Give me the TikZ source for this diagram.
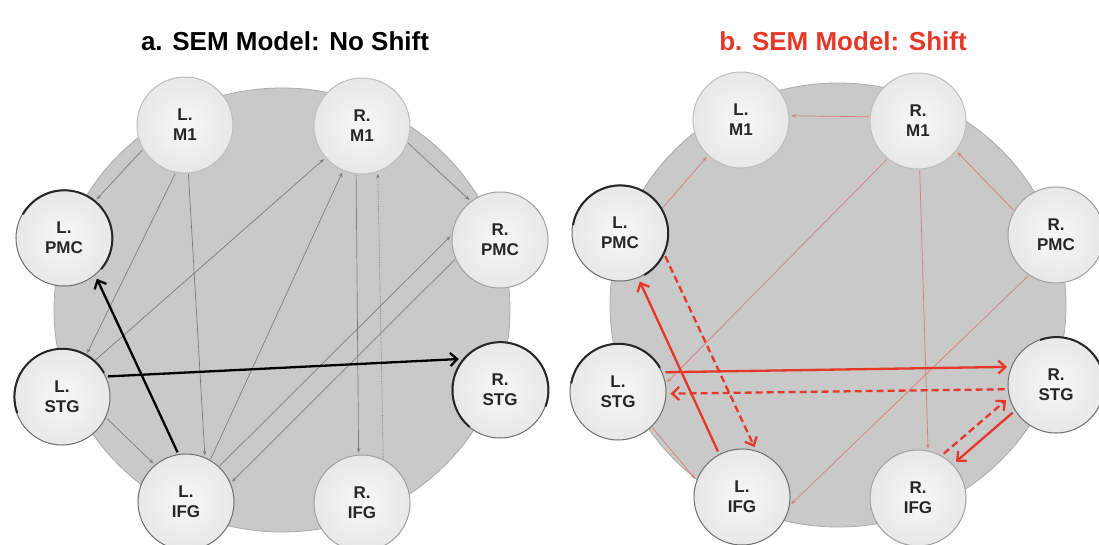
\documentclass[tikz,border=0pt]{standalone}
\usepackage{fontspec}
\setmainfont{Liberation Sans}
\usetikzlibrary{arrows.meta}
\definecolor{bggray}{RGB}{201,201,201}
\definecolor{bgedge}{RGB}{170,170,170}
\definecolor{nodefill}{RGB}{232,232,232}
\definecolor{nodeline}{RGB}{160,160,160}
\definecolor{nodedark}{RGB}{110,110,110}
\definecolor{thingray}{RGB}{125,125,125}
\definecolor{sred}{RGB}{230,55,40}
\definecolor{tred}{RGB}{215,125,120}
\definecolor{txt}{RGB}{38,38,38}
\begin{document}
\begin{tikzpicture}[x=1pt,y=-1pt,
  region/.style={circle, minimum size=96pt, inner sep=0pt,
    inner color=white!97!black, outer color=nodefill,
    draw=nodeline, line width=1pt, text=txt, align=center,
    font=\bfseries\fontsize{17}{20}\selectfont},
  regiondark/.style={region, draw=nodedark},
  darkarc/.style={draw=black!85, line width=2pt},
  ttl/.style={anchor=base, font=\bfseries\fontsize{26}{28}\selectfont},
  gedge/.style={draw=thingray, line width=0.7pt,
    -{Stealth[length=4.5pt,width=3.5pt]}, shorten >=2pt, shorten <=1pt},
  bigblack/.style={draw=black, line width=2.3pt,
    -{Straight Barb[length=7pt,width=13pt]}, shorten >=4pt, shorten <=2pt},
  redthin/.style={draw=tred, line width=0.7pt,
    -{Stealth[length=4.5pt,width=3.5pt]}, shorten >=2pt, shorten <=1pt},
  redsolid/.style={draw=sred, line width=2.3pt,
    -{Straight Barb[length=7pt,width=13pt]}, shorten >=4pt, shorten <=3pt},
  reddash/.style={redsolid, dash pattern=on 7pt off 4pt},
]
\useasboundingbox (0,0) rectangle (1099,544);

% ---------- titles ----------
\node[ttl] (ta) at (285,50) {a. SEM Model: No Shift};
\node[ttl, text=sred] (tb) at (843,50) {b. SEM Model: Shift};

% ---------- panel a ----------
\fill[bggray, draw=bgedge, line width=0.8pt] (282,310) ellipse [x radius=228, y radius=222];
\node[region, draw=nodeline!70] (lm1) at (185,125) {L.\\M1};
\node[region, draw=nodeline!70] (rm1) at (362,126) {R.\\M1};
\node[regiondark] (lpmc) at (64,238) {L.\\PMC};
\node[region] (rpmc) at (500,240) {R.\\PMC};
\node[regiondark] (lstg) at (62,397) {L.\\STG};
\node[regiondark] (rstg) at (500,390) {R.\\STG};
\node[regiondark] (lifg) at (186,502) {L.\\IFG};
\node[region] (rifg) at (362,503) {R.\\IFG};
\draw[darkarc] (lpmc.-40) arc[start angle=-40, end angle=150, radius=48pt];
\draw[darkarc] (lstg.30) arc[start angle=30, end angle=200, radius=48pt];
\draw[darkarc] (rstg.-20) arc[start angle=-20, end angle=230, radius=48pt];

\draw[gedge] (lm1.210) -- (lpmc.50);
\draw[gedge] (lm1.259) -- (lstg.60);
\draw[gedge] (lm1.274) -- (lifg.67);
\draw[gedge] (lifg.60) -- (rm1.247);
\draw[gedge] (lstg.48) -- (rm1.221);
\draw[gedge] (rm1.263) -- (rifg.94);
\draw[gedge, densely dotted] (rifg.64) -- (rm1.289);
\draw[gedge] (rm1.340) -- (rpmc.127);
\draw[gedge] (lifg.47) -- (rpmc.174);
\draw[gedge] (rpmc.203) -- (lifg.23);
\draw[gedge] (lstg.335) -- (lifg.130);
\draw[bigblack] (lifg.99) -- (lpmc.310);
\draw[bigblack] (lstg.25) -- (rstg.140);

% ---------- panel b ----------
\begin{scope}[shift={(556,-5)}]
\fill[bggray, draw=bgedge, line width=0.8pt] (282,310) ellipse [x radius=228, y radius=222];
\node[region, draw=nodeline!70] (lm1b) at (185,125) {L.\\M1};
\node[region, draw=nodeline!70] (rm1b) at (362,126) {R.\\M1};
\node[regiondark] (lpmcb) at (64,238) {L.\\PMC};
\node[region] (rpmcb) at (500,240) {R.\\PMC};
\node[regiondark] (lstgb) at (62,397) {L.\\STG};
\node[regiondark] (rstgb) at (500,390) {R.\\STG};
\node[regiondark] (lifgb) at (186,502) {L.\\IFG};
\node[region] (rifgb) at (362,503) {R.\\IFG};
\draw[darkarc] (lpmcb.-60) arc[start angle=-60, end angle=170, radius=48pt];
\draw[darkarc] (lstgb.30) arc[start angle=30, end angle=170, radius=48pt];
\draw[darkarc] (rstgb.-10) arc[start angle=-10, end angle=110, radius=48pt];

\draw[redthin] (rm1b.175) -- (lm1b.5);
\draw[redthin] (lpmcb.30) -- (lm1b.227);
\draw[redthin] (rm1b.231) -- (lstgb.10);
\draw[redthin] (rm1b.272) -- (rifgb.78);
\draw[redthin] (rpmcb.150) -- (rm1b.322);
\draw[redthin] (rpmcb.236) -- (lifgb.350);
\draw[redthin] (lstgb.314) -- (lifgb.160);
\draw[redsolid] (lifgb.118) -- (lpmcb.292);
\draw[reddash] (lpmcb.335) -- (lifgb.73);
\draw[redsolid] (lstgb.24) -- (rstgb.158);
\draw[reddash] (rstgb.185) -- (lstgb.-2);
\draw[reddash] (rifgb.61) -- (rstgb.195);
\draw[redsolid] (rstgb.212) -- (rifgb.44);
\end{scope}
\end{tikzpicture}
\end{document}
